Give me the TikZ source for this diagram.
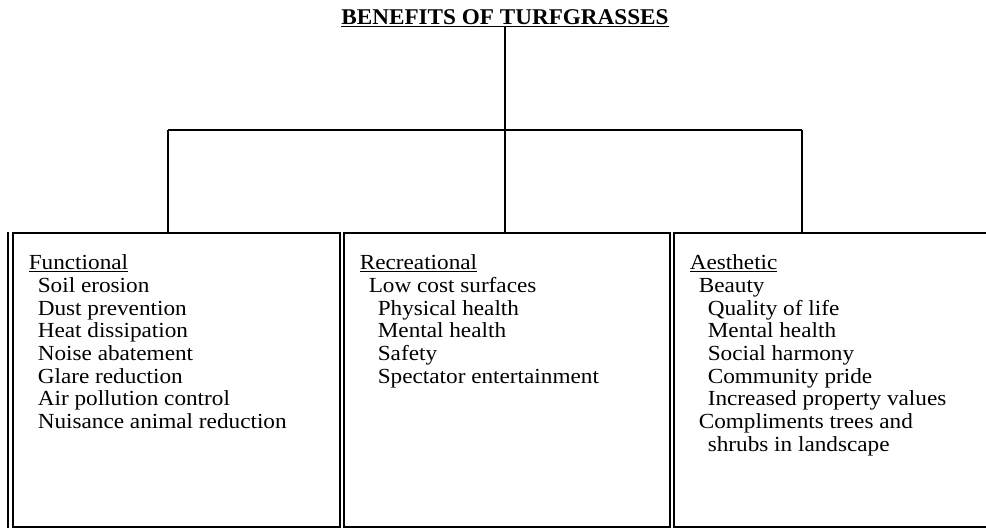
\documentclass[tikz,border=0pt]{standalone}
\usepackage{fontspec}
\newfontfamily\scanfont[FakeStretch=1.08]{Liberation Serif}
\newfontfamily\titlefont[FakeStretch=1.03]{Liberation Serif}
\usetikzlibrary{positioning}

\newcommand{\ind}{\hspace*{9pt}}
\newcommand{\indd}{\hspace*{18pt}}

\begin{document}
\begin{tikzpicture}[x=1pt,y=-1pt,link/.style={draw, line width=1.8pt},listbox/.style={draw, line width=1.6pt, anchor=north west, inner xsep=16pt, inner ysep=22pt, minimum height=294pt, font=\scanfont\fontsize{21.5pt}{22.7pt}\selectfont},titlenode/.style={inner sep=0pt, anchor=base, font=\titlefont\bfseries\fontsize{22.5pt}{24pt}\selectfont}]
    \useasboundingbox (0,0) rectangle (986,529);
    \clip (0,0) rectangle (986,529);
    \node [titlenode] (title) at (505,25) {\underline{BENEFITS OF TURFGRASSES}};
    \node [listbox] (func) at (12,232) {\begin{minipage}[t][250pt][t]{295pt}\underline{Functional}\\
      \ind Soil erosion\\ \ind Dust prevention\\ \ind Heat dissipation\\ \ind Noise abatement\\
      \ind Glare reduction\\ \ind Air pollution control\\ \ind Nuisance animal reduction\end{minipage}};
    \node [listbox] (recr) at (343,232) {\begin{minipage}[t][250pt][t]{294pt}\underline{Recreational}\\
      \ind Low cost surfaces\\ \indd Physical health\\ \indd Mental health\\ \indd Safety\\
      \indd Spectator entertainment\end{minipage}};
    \node [listbox] (aest) at (673,232) {\begin{minipage}[t][250pt][t]{285pt}\underline{Aesthetic}\\
      \ind Beauty\\ \indd Quality of life\\ \indd Mental health\\ \indd Social harmony\\
      \indd Community pride\\ \indd Increased property values\\ \ind Compliments trees and\\
      \indd shrubs in landscape\end{minipage}};
    \coordinate (lbar) at (168,130);
    \coordinate (rbar) at (802,130);
    \path [link] (title.south) -- (title.south |- recr.north);
    \path [link] (lbar) -- (rbar);
    \path [link] (lbar) -- (lbar |- func.north);
    \path [link] (rbar) -- (rbar |- aest.north);
    \draw [line width=1.6pt] ([xshift=-4pt]func.north west) -- ([xshift=-4pt]func.south west);
\end{tikzpicture}
\end{document}
